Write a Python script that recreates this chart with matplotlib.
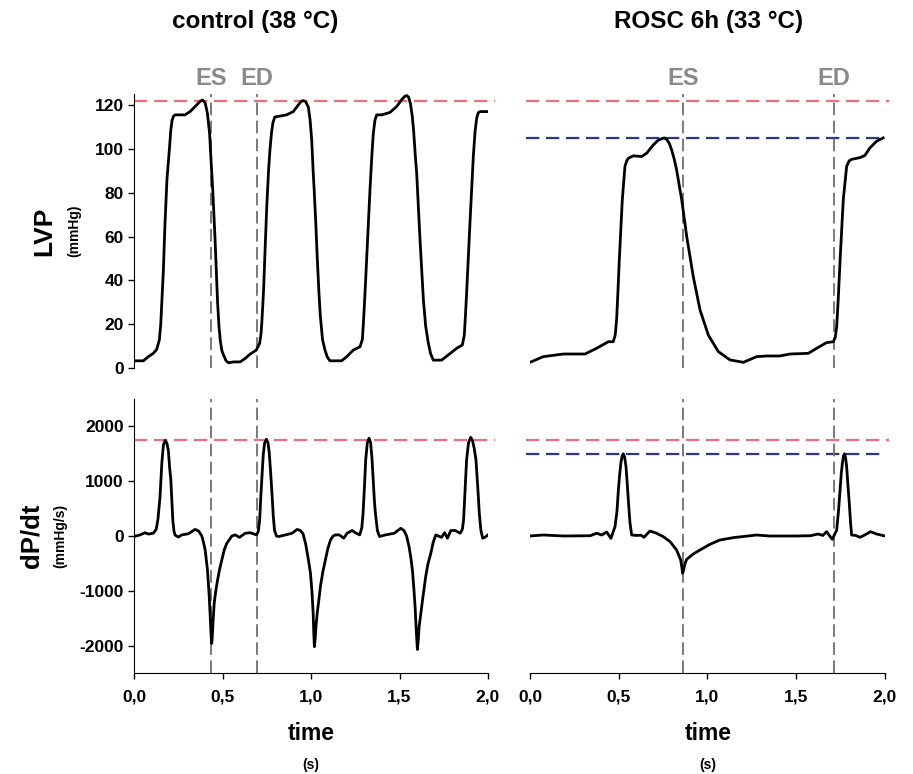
import matplotlib
matplotlib.use("Agg")
import matplotlib.pyplot as plt
import numpy as np

plt.rcParams['font.family'] = ['Liberation Sans', 'DejaVu Sans']
plt.rcParams['font.weight'] = 'bold'
plt.rcParams['axes.unicode_minus'] = False

# ---- data ----
# control (38 °C) - LV pressure
t_lvp_ctrl = [0.000, 0.053, 0.081, 0.109, 0.128, 0.143, 0.151, 0.157, 0.166, 0.175, 0.186, 0.200,
              0.208, 0.215, 0.223, 0.232, 0.288, 0.317, 0.345, 0.374, 0.387, 0.402, 0.415, 0.427,
              0.436, 0.445, 0.458, 0.472, 0.480, 0.487, 0.496, 0.506, 0.520, 0.534, 0.562, 0.600,
              0.628, 0.657, 0.691, 0.710, 0.718, 0.723, 0.732, 0.741, 0.750, 0.760, 0.768, 0.777,
              0.785, 0.795, 0.815, 0.862, 0.900, 0.928, 0.944, 0.956, 0.970, 0.985, 0.995, 1.004,
              1.012, 1.018, 1.027, 1.035, 1.045, 1.053, 1.065, 1.079, 1.092, 1.107, 1.173, 1.202,
              1.239, 1.277, 1.290, 1.296, 1.305, 1.315, 1.333, 1.343, 1.352, 1.361, 1.371, 1.399,
              1.446, 1.484, 1.512, 1.530, 1.541, 1.552, 1.562, 1.572, 1.580, 1.590, 1.597, 1.616,
              1.635, 1.648, 1.663, 1.676, 1.691, 1.738, 1.776, 1.823, 1.855, 1.866, 1.872, 1.880,
              1.898, 1.917, 1.927, 1.936, 1.945, 1.955, 2.0]
lvp_ctrl = [3.3, 3.3, 5.2, 6.7, 8.5, 12.8, 20, 30, 45, 66, 86, 100,
            108.7, 113, 114.9, 115.5, 115.5, 117, 119.3, 121.7, 122.3, 121, 116, 107,
            93.4, 81, 58.4, 30, 19, 12.8, 8, 5.9, 3.3, 2.4, 2.8, 2.8,
            4.4, 6.4, 8.2, 11.3, 16, 22, 35.6, 55, 73.7, 90, 99.5, 107.5,
            112, 114.5, 114.8, 115.5, 117, 120, 121.6, 122, 121.5, 119, 113, 104,
            90, 81, 66, 50.8, 34, 23.4, 13, 8.2, 5, 3.3, 3.3, 5.2,
            8.2, 9.7, 13, 20.4, 34, 50.8, 81, 96, 107, 113, 115.5, 115.5,
            116.6, 119.3, 122.4, 124, 124.3, 123.5, 120.5, 115, 108, 96, 89, 58.4,
            31, 19, 11.3, 6.5, 3.6, 3.6, 6, 9, 10.5, 15, 23, 35.6,
            66, 96.5, 108, 114, 116.5, 117, 117]

# control (38 °C) - dP/dt
t_dpdt_ctrl = [0.000, 0.034, 0.062, 0.081, 0.109, 0.125, 0.135, 0.147, 0.157, 0.166, 0.176, 0.186,
               0.194, 0.201, 0.208, 0.219, 0.226, 0.232, 0.251, 0.269, 0.307, 0.330, 0.345, 0.365,
               0.383, 0.393, 0.402, 0.415, 0.425, 0.432, 0.436, 0.439, 0.442, 0.446, 0.453, 0.462,
               0.472, 0.484, 0.496, 0.510, 0.524, 0.553, 0.572, 0.596, 0.628, 0.657, 0.691, 0.702,
               0.710, 0.716, 0.723, 0.730, 0.738, 0.748, 0.757, 0.764, 0.771, 0.779, 0.787, 0.794,
               0.805, 0.817, 0.855, 0.893, 0.921, 0.940, 0.955, 0.970, 0.985, 0.997, 1.005, 1.012,
               1.016, 1.019, 1.023, 1.028, 1.036, 1.045, 1.053, 1.067, 1.081, 1.095, 1.110, 1.125,
               1.138, 1.160, 1.185, 1.204, 1.232, 1.250, 1.275, 1.287, 1.294, 1.302, 1.309, 1.318,
               1.328, 1.337, 1.345, 1.352, 1.358, 1.364, 1.375, 1.387, 1.421, 1.470, 1.507, 1.525,
               1.540, 1.554, 1.565, 1.573, 1.582, 1.588, 1.595, 1.601, 1.606, 1.611, 1.616, 1.630,
               1.648, 1.660, 1.677, 1.690, 1.705, 1.737, 1.755, 1.771, 1.790, 1.815, 1.843, 1.855,
               1.862, 1.870, 1.879, 1.890, 1.902, 1.912, 1.922, 1.932, 1.942, 1.951, 1.960, 1.970,
               1.985, 2.0]
dpdt_ctrl = [-10, 20, 60, 35, 50, 120, 300, 717, 1327, 1660, 1745, 1690,
             1560, 1250, 1022, 292, 80, 18, -20, 20, 40, 90, 120, 90,
             0, -120, -255, -620, -1107, -1593, -1850, -1960, -1850, -1593, -1228, -1000,
             -803, -600, -438, -250, -134, 0, 20, -25, 50, 60, 20, 80,
             300, 700, 1100, 1480, 1700, 1765, 1700, 1520, 1200, 800, 350, 100,
             0, -10, 20, 50, 120, 100, 40, -150, -430, -680, -1000, -1400,
             -1800, -2020, -1900, -1650, -1380, -1150, -925, -650, -440, -230, -73, 0,
             20, 20, -40, 50, 100, 60, 20, 150, 410, 900, 1390, 1700,
             1785, 1700, 1390, 1000, 650, 410, 100, -10, 20, 50, 140, 100,
             0, -195, -420, -620, -1000, -1290, -1750, -2070, -1900, -1650, -1530, -1170,
             -740, -520, -315, -120, 20, -25, 60, -40, 100, 100, 50, 120,
             290, 800, 1390, 1700, 1800, 1750, 1600, 1390, 900, 410, 100, -40,
             -20, 20]

# ROSC 6h (33 °C) - LV pressure
t_lvp_rosc = [0.000, 0.075, 0.188, 0.310, 0.375, 0.441, 0.469, 0.480, 0.488, 0.495, 0.503, 0.520,
              0.535, 0.545, 0.554, 0.582, 0.629, 0.657, 0.695, 0.720, 0.742, 0.757, 0.770, 0.785,
              0.798, 0.812, 0.826, 0.855, 0.883, 0.920, 0.958, 1.005, 1.061, 1.127, 1.202, 1.277,
              1.333, 1.408, 1.465, 1.568, 1.615, 1.671, 1.709, 1.720, 1.728, 1.737, 1.747, 1.765,
              1.784, 1.798, 1.812, 1.859, 1.887, 1.915, 1.953, 1.990]
lvp_rosc = [2.6, 5.2, 6.4, 6.4, 9, 12, 12, 15, 22, 34, 49, 76.7,
            92, 94.5, 95.7, 96.8, 96.5, 98, 101.8, 103.8, 104.6, 105, 104.3, 102.5,
            99.5, 95.5, 90.4, 76.7, 60, 41.7, 26.5, 15, 7.5, 3.7, 2.6, 5.2,
            5.5, 5.5, 6.4, 6.7, 9, 11.6, 12, 14, 19, 32, 49, 76.7,
            92, 94.5, 95.2, 96, 97, 100.4, 103.5, 105]

# ROSC 6h (33 °C) - dP/dt
t_dpdt_rosc = [0.000, 0.075, 0.190, 0.340, 0.375, 0.404, 0.432, 0.456, 0.479, 0.490, 0.498, 0.506,
               0.513, 0.520, 0.526, 0.533, 0.541, 0.548, 0.554, 0.563, 0.573, 0.601, 0.625, 0.642,
               0.676, 0.714, 0.751, 0.789, 0.826, 0.849, 0.856, 0.860, 0.864, 0.869, 0.876, 0.883,
               0.920, 0.958, 1.014, 1.070, 1.146, 1.277, 1.350, 1.500, 1.580, 1.624, 1.650, 1.671,
               1.703, 1.728, 1.738, 1.747, 1.754, 1.760, 1.766, 1.772, 1.778, 1.784, 1.792, 1.799,
               1.806, 1.812, 1.835, 1.859, 1.887, 1.919, 1.953, 2.0]
dpdt_rosc = [0, 18, 0, 5, 50, 18, 73, -43, 170, 450, 840, 1150,
             1356, 1470, 1500, 1440, 1265, 950, 657, 250, 18, 10, 15, -24,
             91, 49, -12, -103, -255, -438, -580, -680, -640, -560, -480, -425,
             -328, -255, -152, -73, -30, 18, 0, 0, 5, 36, 10, 79,
             -61, 109, 450, 840, 1150, 1325, 1460, 1500, 1430, 1265, 900, 595,
             250, 18, 10, -24, 20, 79, 36, 0]

# end-systole / end-diastole markers (s)
es_ed_ctrl = {'ES': 0.436, 'ED': 0.695}
es_ed_rosc = {'ES': 0.862, 'ED': 1.713}

# reference levels
lvp_max_ctrl = 122
lvp_max_rosc = 105
dpdt_max_ctrl = 1760
dpdt_max_rosc = 1500

x_ticks = [0.0, 0.5, 1.0, 1.5, 2.0]
x_ticklabels = ['0,0', '0,5', '1,0', '1,5', '2,0']
lvp_ticks = [0, 20, 40, 60, 80, 100, 120]
dpdt_ticks = [-2000, -1000, 0, 1000, 2000]

red = '#ee6f7c'
blue = '#2a3590'
grey = '#707070'

fig = plt.figure(figsize=(9.13, 7.74), dpi=100)
ax_tl = fig.add_axes([0.1468, 0.5245, 0.3877, 0.354])
ax_bl = fig.add_axes([0.1468, 0.1305, 0.3877, 0.354])
ax_tr = fig.add_axes([0.5805, 0.5245, 0.3888, 0.354])
ax_br = fig.add_axes([0.5805, 0.1305, 0.3888, 0.354])

ax_tl.plot(t_lvp_ctrl, lvp_ctrl, color='black', lw=2.0, zorder=3, solid_joinstyle='round')
ax_tr.plot(t_lvp_rosc, lvp_rosc, color='black', lw=2.0, zorder=3, solid_joinstyle='round')
ax_bl.plot(t_dpdt_ctrl, dpdt_ctrl, color='black', lw=2.0, zorder=3, solid_joinstyle='round')
ax_br.plot(t_dpdt_rosc, dpdt_rosc, color='black', lw=2.0, zorder=3, solid_joinstyle='round')

# dashed reference lines
ax_tl.axhline(lvp_max_ctrl, xmin=0, xmax=1.02, color=red, lw=1.6, dashes=(6, 3), clip_on=False)
ax_tr.axhline(lvp_max_ctrl, xmin=-0.01, xmax=1.01, color=red, lw=1.6, dashes=(6, 3), clip_on=False)
ax_tr.axhline(lvp_max_rosc, xmin=-0.01, xmax=1.0, color=blue, lw=1.6, dashes=(6, 3), clip_on=False)
ax_bl.axhline(dpdt_max_ctrl, xmin=0, xmax=1.02, color=red, lw=1.6, dashes=(6, 3), clip_on=False)
ax_br.axhline(dpdt_max_ctrl, xmin=-0.01, xmax=1.01, color=red, lw=1.6, dashes=(6, 3), clip_on=False)
ax_br.axhline(dpdt_max_rosc, xmin=-0.01, xmax=1.0, color=blue, lw=1.6, dashes=(6, 3), clip_on=False)

for ax_top, ax_bot, marks in [(ax_tl, ax_bl, es_ed_ctrl), (ax_tr, ax_br, es_ed_rosc)]:
    for name, t in marks.items():
        ax_top.axvline(t, color=grey, lw=1.3, dashes=(7, 3), zorder=2)
        ax_bot.axvline(t, color=grey, lw=1.3, dashes=(7, 3), zorder=2)
        ax_top.text(t, 1.058, name, transform=ax_top.get_xaxis_transform(),
                    ha='center', va='center', fontsize=17, color='#8a8a8a')

for ax in [ax_tl, ax_bl, ax_tr, ax_br]:
    ax.set_xlim(0, 2.0)
    for s in ['top', 'right']:
        ax.spines[s].set_visible(False)
    ax.tick_params(labelsize=12.5, length=4, width=1, direction='out')

for ax in [ax_tl, ax_tr]:
    ax.set_ylim(0, 125)
    ax.spines['bottom'].set_visible(False)
    ax.set_xticks([])
for ax in [ax_bl, ax_br]:
    ax.set_ylim(-2500, 2500)
    ax.set_xticks(x_ticks)
    ax.set_xticklabels(x_ticklabels)
    ax.tick_params(axis='x', pad=8)

ax_tl.set_yticks(lvp_ticks)
ax_bl.set_yticks(dpdt_ticks)
for ax in [ax_tr, ax_br]:
    ax.spines['left'].set_visible(False)
    ax.set_yticks([])

# titles and axis labels
fig.text(0.279, 0.9716, 'control (38 °C)', ha='center', va='center', fontsize=17.5)
fig.text(0.776, 0.9716, 'ROSC 6h (33 °C)', ha='center', va='center', fontsize=17.5)
fig.text(0.048, 0.7016, 'LVP', rotation=90, ha='center', va='center', fontsize=19)
fig.text(0.081, 0.7016, '(mmHg)', rotation=90, ha='center', va='center', fontsize=10)
fig.text(0.035, 0.3075, 'dP/dt', rotation=90, ha='center', va='center', fontsize=18.5)
fig.text(0.066, 0.3075, '(mmHg/s)', rotation=90, ha='center', va='center', fontsize=10)
for xc in [0.3406, 0.7755]:
    fig.text(xc, 0.0517, 'time', ha='center', va='center', fontsize=16.5)
    fig.text(xc, 0.0116, '(s)', ha='center', va='center', fontsize=10)

fig.savefig('out.png', dpi=100)
